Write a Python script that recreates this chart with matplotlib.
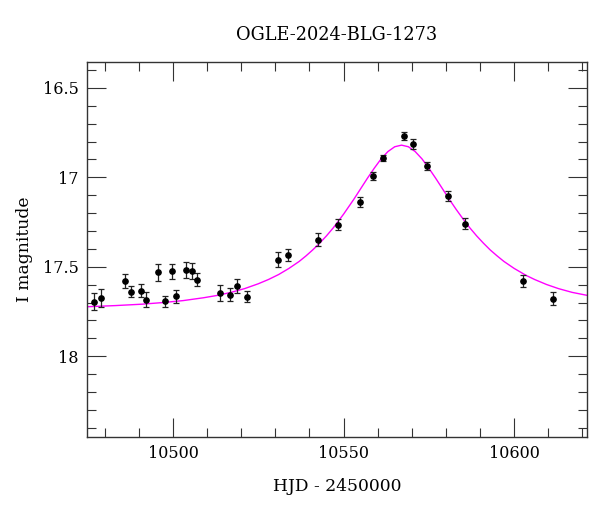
import numpy as np
import matplotlib
matplotlib.use('Agg')
import matplotlib.pyplot as plt
from matplotlib.ticker import MultipleLocator

plt.rcParams['font.family'] = ['DejaVu Serif']

# photometry (HJD - 2450000, I mag, error)
hjd = [10476.9, 10479.0, 10485.8, 10487.8, 10490.7, 10492.0, 10495.7, 10497.8,
       10499.6, 10500.9, 10503.7, 10505.6, 10506.9, 10513.8, 10516.8, 10518.8,
       10521.8, 10530.7, 10533.8, 10542.6, 10548.5, 10554.7, 10558.6, 10561.5,
       10567.6, 10570.5, 10574.6, 10580.5, 10585.5, 10602.5, 10611.4]
mag = [17.695, 17.674, 17.579, 17.639, 17.633, 17.683, 17.531, 17.693,
       17.526, 17.665, 17.518, 17.523, 17.572, 17.646, 17.656, 17.607,
       17.667, 17.460, 17.434, 17.349, 17.264, 17.139, 16.992, 16.892,
       16.768, 16.814, 16.936, 17.104, 17.260, 17.581, 17.678]
err = [0.048, 0.050, 0.039, 0.030, 0.034, 0.044, 0.047, 0.030,
       0.043, 0.036, 0.045, 0.043, 0.038, 0.046, 0.038, 0.040,
       0.029, 0.041, 0.034, 0.036, 0.033, 0.027, 0.021, 0.019,
       0.024, 0.026, 0.023, 0.029, 0.031, 0.033, 0.035]

# model curve
model_t = [10474, 10483, 10491, 10497, 10503, 10509, 10513, 10517, 10521, 10525,
           10528, 10531, 10534, 10537, 10539, 10541, 10543, 10545, 10547, 10550,
           10553, 10555, 10557, 10559, 10561, 10563, 10565, 10567, 10569, 10571,
           10573, 10575, 10577, 10579, 10581, 10583, 10585, 10587, 10589, 10591,
           10593, 10595, 10597, 10600, 10603.5, 10606, 10609.5, 10613, 10617,
           10622]
model_m = [17.724, 17.717, 17.709, 17.700, 17.689, 17.673, 17.660, 17.643, 17.622, 17.595,
           17.571, 17.543, 17.509, 17.470, 17.439, 17.405, 17.368, 17.327, 17.282, 17.206,
           17.123, 17.064, 17.005, 16.949, 16.897, 16.856, 16.829, 16.820, 16.829, 16.856,
           16.897, 16.949, 17.005, 17.064, 17.123, 17.179, 17.232, 17.282, 17.327, 17.368,
           17.406, 17.439, 17.470, 17.509, 17.548, 17.571, 17.599, 17.622, 17.643,
           17.662]

fig = plt.figure(figsize=(6, 5.12), dpi=100)
ax = fig.add_axes([0.145, 0.147, 0.833, 0.732])

ax.plot(model_t, model_m, color='#ff00ff', lw=1.0, zorder=2)
ax.errorbar(hjd, mag, yerr=err, fmt='o', color='k', ms=3.8, ecolor='#222222',
            elinewidth=0.9, capsize=2.2, capthick=0.9, zorder=3)

ax.set_xlim(10474.8, 10621.3)
ax.set_ylim(18.45, 16.355)

ax.xaxis.set_major_locator(MultipleLocator(50))
ax.xaxis.set_minor_locator(MultipleLocator(10))
ax.yaxis.set_major_locator(MultipleLocator(0.5))
ax.yaxis.set_minor_locator(MultipleLocator(0.1))
ax.set_yticks([16.5, 17, 17.5, 18])
ax.set_yticklabels(['16.5', '17', '17.5', '18'])

ax.tick_params(which='both', direction='in', top=True, right=True,
               labelsize=11.5, color='#333333', width=0.8)
ax.tick_params(which='major', length=13.5, pad=6)
ax.tick_params(which='minor', length=6.8)
for s in ax.spines.values():
    s.set_linewidth(1.0)
    s.set_color('#333333')

ax.set_xlabel('HJD - 2450000', fontsize=12.3)
ax.set_ylabel('I magnitude', fontsize=12.3)
ax.xaxis.set_label_coords(0.5, -(478 - 436.7) / 374.7)
ax.yaxis.set_label_coords(-(87.3 - 33) / 499.4, 0.5)

fig.text(337 / 600, 1 - 35 / 512, 'OGLE-2024-BLG-1273', fontsize=12.8,
         ha='center', va='center')

fig.savefig('out.png', dpi=100)
